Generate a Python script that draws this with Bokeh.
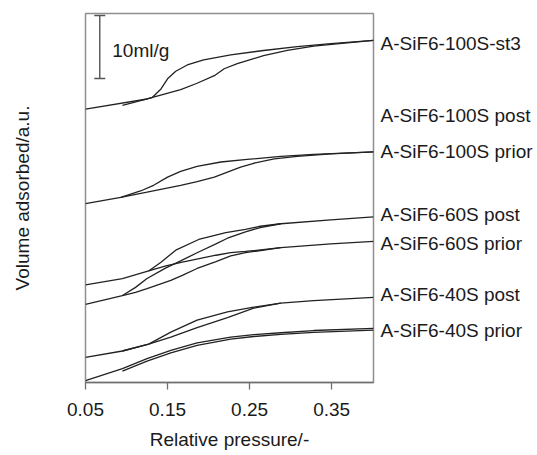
from bokeh.plotting import figure
from bokeh.models import Range1d, FixedTicker, NumeralTickFormatter, Label, LinearAxis
from bokeh.embed import file_html
from bokeh.resources import INLINE

# ---- data: relative pressure (p/p0) and adsorbed volume (ml/g, stacked offsets) ----
p_st3_ads = [0.05, 0.125, 0.166, 0.186, 0.207, 0.219, 0.235, 0.255, 0.267, 0.296, 0.328, 0.369, 0.401]
v_st3_ads = [43.4, 45.0, 46.5, 47.5, 48.7, 49.8, 50.6, 51.4, 51.9, 52.7, 53.4, 53.9, 54.3]
p_st3_des = [0.095, 0.131, 0.142, 0.150, 0.160, 0.174, 0.194, 0.227, 0.267, 0.308, 0.349, 0.401]
v_st3_des = [44.0, 45.2, 46.6, 48.2, 49.4, 50.4, 51.2, 52.0, 52.7, 53.3, 53.8, 54.3]

p_100prior_ads = [0.05, 0.093, 0.125, 0.166, 0.186, 0.207, 0.223, 0.239, 0.255, 0.280, 0.308, 0.349, 0.401]
v_100prior_ads = [28.4, 29.4, 30.2, 31.3, 31.9, 32.6, 33.4, 34.2, 34.8, 35.5, 35.9, 36.3, 36.6]
p_100prior_des = [0.093, 0.117, 0.133, 0.150, 0.166, 0.186, 0.215, 0.247, 0.288, 0.328, 0.401]
v_100prior_des = [29.4, 30.4, 31.3, 32.6, 33.5, 34.3, 35.0, 35.4, 35.9, 36.2, 36.6]

p_60post_a = [0.05, 0.095, 0.127, 0.142, 0.160, 0.188, 0.221, 0.245, 0.263, 0.288, 0.349, 0.401]
v_60post_a = [15.5, 16.5, 17.7, 19.1, 21.0, 22.7, 23.8, 24.3, 24.8, 25.2, 25.8, 26.3]
p_60post_b = [0.095, 0.111, 0.125, 0.148, 0.166, 0.186, 0.209, 0.223, 0.245, 0.263, 0.288]
v_60post_b = [13.8, 15.1, 16.5, 18.2, 19.3, 20.6, 22.0, 22.9, 23.9, 24.6, 25.2]

p_60prior_a = [0.05, 0.095, 0.111, 0.125, 0.154, 0.168, 0.186, 0.209, 0.227, 0.245, 0.288, 0.349, 0.401]
v_60prior_a = [12.4, 13.8, 14.3, 14.9, 16.2, 17.0, 18.1, 19.2, 20.1, 20.6, 21.4, 22.0, 22.4]
p_60prior_b = [0.127, 0.148, 0.168, 0.190, 0.209, 0.227, 0.245, 0.288]
v_60prior_b = [17.7, 18.5, 19.1, 19.7, 20.2, 20.6, 20.8, 21.4]

p_40post_a = [0.05, 0.095, 0.127, 0.154, 0.186, 0.223, 0.255, 0.288, 0.328, 0.401]
v_40post_a = [4.0, 5.0, 6.1, 7.2, 8.7, 10.3, 11.8, 12.6, 13.0, 13.5]
p_40post_b = [0.095, 0.127, 0.154, 0.186, 0.223, 0.255, 0.288]
v_40post_b = [5.0, 6.1, 8.0, 9.9, 11.2, 11.95, 12.6]

p_40prior_a = [0.05, 0.095, 0.125, 0.154, 0.186, 0.227, 0.255, 0.288, 0.328, 0.401]
v_40prior_a = [0.3, 2.2, 3.8, 5.1, 6.3, 7.2, 7.6, 7.9, 8.25, 8.6]
p_40prior_b = [0.095, 0.125, 0.154, 0.186, 0.227, 0.255, 0.288, 0.328, 0.401]
v_40prior_b = [1.8, 3.4, 4.7, 5.9, 6.9, 7.3, 7.65, 7.95, 8.3]

sample_labels = ["A-SiF6-100S-st3", "A-SiF6-100S post", "A-SiF6-100S prior",
                 "A-SiF6-60S post", "A-SiF6-60S prior", "A-SiF6-40S post", "A-SiF6-40S prior"]
label_levels = [53.8, 42.4, 36.7, 26.6, 22.1, 13.9, 8.3]

x_ticks = [0.05, 0.15, 0.25, 0.35]
scale_bar_value = 10  # ml/g

FONT = "Liberation Sans"
LINE = "#222222"
TXT = "#1a1a1a"

p = figure(width=537, height=455, output_backend="svg", toolbar_location=None,
           x_range=Range1d(0.05, 0.401), y_range=Range1d(0, 58.57),
           min_border_left=85, min_border_right=164, min_border_top=13, min_border_bottom=73)
p.grid.visible = False
p.background_fill_color = "white"
p.border_fill_color = "white"
p.outline_line_color = "#8f8f8f"
p.outline_line_width = 1.5

# bottom axis
ax = p.xaxis[0]
ax.ticker = FixedTicker(ticks=x_ticks)
ax.formatter = NumeralTickFormatter(format="0.00")
ax.axis_line_color = "#707070"
ax.axis_line_width = 1.5
ax.major_tick_line_color = "#707070"
ax.major_tick_line_width = 1.3
ax.major_tick_out = 7
ax.major_tick_in = 0
ax.minor_tick_out = 0
ax.minor_tick_in = 0
ax.major_label_text_font = FONT
ax.major_label_text_font_size = "19px"
ax.major_label_text_color = TXT
ax.major_label_standoff = 13
ax.axis_label = "Relative pressure/-"
ax.axis_label_text_font = FONT
ax.axis_label_text_font_size = "19px"
ax.axis_label_text_font_style = "normal"
ax.axis_label_text_color = TXT
ax.axis_label_standoff = 10

# left axis: title only
ay = p.yaxis[0]
ay.ticker = FixedTicker(ticks=[])
ay.axis_line_color = None
ay.major_tick_line_color = None
ay.minor_tick_line_color = None
ay.major_label_text_font_size = "0px"
ay.axis_label = "Volume adsorbed/a.u."
ay.axis_label_text_font = FONT
ay.axis_label_text_font_size = "19px"
ay.axis_label_text_font_style = "normal"
ay.axis_label_text_color = TXT
ay.axis_label_standoff = 53

# right axis used to carry the sample names
ar = LinearAxis(ticker=FixedTicker(ticks=label_levels),
                major_label_overrides={lv: name for lv, name in zip(label_levels, sample_labels)})
ar.axis_line_color = None
ar.major_tick_line_color = None
ar.minor_tick_line_color = None
ar.major_tick_out = 0
ar.major_tick_in = 0
ar.major_label_standoff = 7
ar.major_label_text_font = FONT
ar.major_label_text_font_size = "19px"
ar.major_label_text_color = TXT
p.add_layout(ar, "right")

series = [
    (p_st3_ads, v_st3_ads), (p_st3_des, v_st3_des),
    (p_100prior_ads, v_100prior_ads), (p_100prior_des, v_100prior_des),
    (p_60post_a, v_60post_a), (p_60post_b, v_60post_b),
    (p_60prior_a, v_60prior_a), (p_60prior_b, v_60prior_b),
    (p_40post_a, v_40post_a), (p_40post_b, v_40post_b),
    (p_40prior_a, v_40prior_a), (p_40prior_b, v_40prior_b),
]
for xs, ys in series:
    p.line(xs, ys, line_color=LINE, line_width=1.3)

# scale bar (10 ml/g)
bar_x, bar_top, cap = 0.0674, 58.25, 0.0067
p.segment(x0=[bar_x, bar_x - cap, bar_x - cap], y0=[bar_top, bar_top, bar_top - scale_bar_value],
          x1=[bar_x, bar_x + cap, bar_x + cap], y1=[bar_top - scale_bar_value, bar_top, bar_top - scale_bar_value],
          line_color="#555555", line_width=1.4)
p.add_layout(Label(x=0.0826, y=52.7, text=f"{scale_bar_value}ml/g", text_font=FONT,
                   text_font_size="19px", text_color=TXT, text_baseline="middle"))

open("out.html", "w").write(file_html(p, INLINE))
